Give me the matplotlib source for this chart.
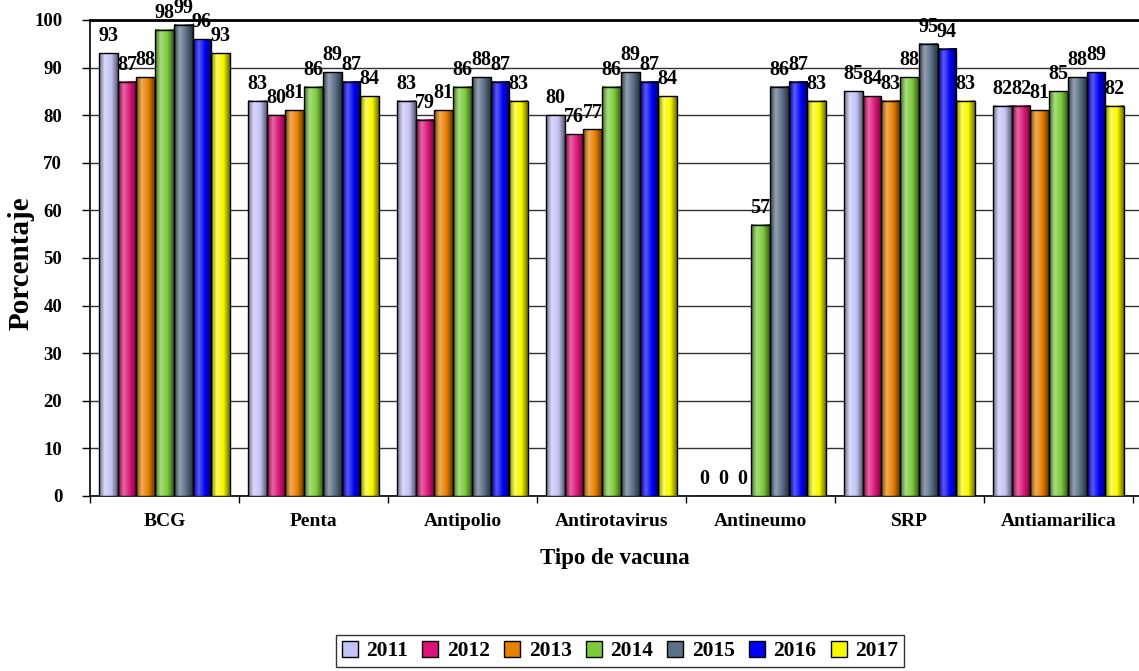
import matplotlib
matplotlib.use("Agg")
import matplotlib.pyplot as plt
import numpy as np
from matplotlib.patches import Patch
from matplotlib.colors import to_rgb

categories = ["BCG", "Penta", "Antipolio", "Antirotavirus", "Antineumo", "SRP", "Antiamarilica"]
years = ["2011", "2012", "2013", "2014", "2015", "2016", "2017"]
v2011 = [93, 83, 83, 80, 0, 85, 82]
v2012 = [87, 80, 79, 76, 0, 84, 82]
v2013 = [88, 81, 81, 77, 0, 83, 81]
v2014 = [98, 86, 86, 86, 57, 88, 85]
v2015 = [99, 89, 88, 89, 86, 95, 88]
v2016 = [96, 87, 87, 87, 87, 94, 89]
v2017 = [93, 84, 83, 84, 83, 83, 82]
series = [v2011, v2012, v2013, v2014, v2015, v2016, v2017]
colors = ["#C4C4F6", "#DC1478", "#E88000", "#7CCB3C", "#5B6F86", "#0000F4", "#F8F800"]

serif = "Liberation Serif"
plt.rcParams["font.family"] = [serif, "DejaVu Serif"]

fig = plt.figure(figsize=(11.39, 6.71), dpi=100)
ax = fig.add_axes([90 / 1139, 1 - 496 / 671, 1 - 90 / 1139, (496 - 20) / 671])

def gradient_colors(c, n=64):
    c = np.array(to_rgb(c))
    t = np.linspace(0, 1, n)
    out = np.zeros((n, 3))
    left = c * 0.55
    light = c + (1 - c) * 0.35
    right = c * 0.45
    for i, ti in enumerate(t):
        if ti < 0.3:
            s = ti / 0.3
            col = left * (1 - s) + light * s
        elif ti < 0.65:
            s = (ti - 0.3) / 0.35
            col = light * (1 - s) + c * s
        else:
            s = (ti - 0.65) / 0.35
            col = c * (1 - s) + right * s
        out[i] = col
    return np.clip(out, 0, 1)

x = np.arange(len(categories))
w = 0.1255
for j, (vals, col) in enumerate(zip(series, colors)):
    grad = gradient_colors(col)[np.newaxis, :, :]
    xs = x + (j - 3) * w
    ax.bar(xs, vals, width=w, facecolor="none", edgecolor="black", linewidth=1.0, zorder=4)
    for xc, v in zip(xs, vals):
        if v > 0:
            ax.imshow(grad, extent=(xc - w / 2, xc + w / 2, 0, v), aspect="auto",
                      interpolation="bilinear", zorder=3)
        ax.annotate(str(v), (xc, v), xytext=(0, 5), textcoords="offset points",
                    ha="center", va="bottom", fontsize=14.5, fontweight="bold",
                    family=serif, zorder=6)

ax.set_xlim(-0.5, 6.54)
ax.set_ylim(0, 100)
ax.set_yticks(np.arange(0, 101, 10))
ax.yaxis.grid(True, color="#333333", linewidth=1.0)
ax.set_axisbelow(True)

ax.set_xticks(x)
ax.set_xticklabels(categories, fontsize=14, fontweight="bold")
ax.set_xticks(np.arange(-0.5, 7, 1), minor=True)
ax.tick_params(axis="x", which="major", length=0, pad=12)
ax.tick_params(axis="x", which="minor", length=5, direction="out", width=1)
ax.tick_params(axis="y", length=6, direction="out", width=1, labelsize=13.5, pad=14)
for lab in ax.get_yticklabels():
    lab.set_fontweight("bold")

ax.spines["right"].set_visible(False)
ax.spines["top"].set_linewidth(2)
ax.spines["left"].set_linewidth(1.2)
ax.spines["bottom"].set_linewidth(1.2)

ax.set_ylabel("Porcentaje", fontsize=21, fontweight="bold", va="center")
ax.yaxis.set_label_coords((21 - 90) / 1049, 0.49)
ax.set_xlabel("Tipo de vacuna", fontsize=16.5, fontweight="bold", labelpad=13)

handles = [Patch(facecolor=c, edgecolor="black", linewidth=1) for c in colors]
leg = fig.legend(handles, years, loc="center", bbox_to_anchor=(620 / 1139, 1 - 651 / 671),
                 ncol=7, frameon=True, fancybox=False, shadow=False,
                 prop={"family": serif, "weight": "bold", "size": 15.5},
                 handlelength=0.75, handleheight=0.75, handletextpad=0.4,
                 columnspacing=0.65, borderpad=0.25, borderaxespad=0)
leg.get_frame().set_edgecolor("black")
leg.get_frame().set_linewidth(1)

fig.savefig("out.png", dpi=100)
